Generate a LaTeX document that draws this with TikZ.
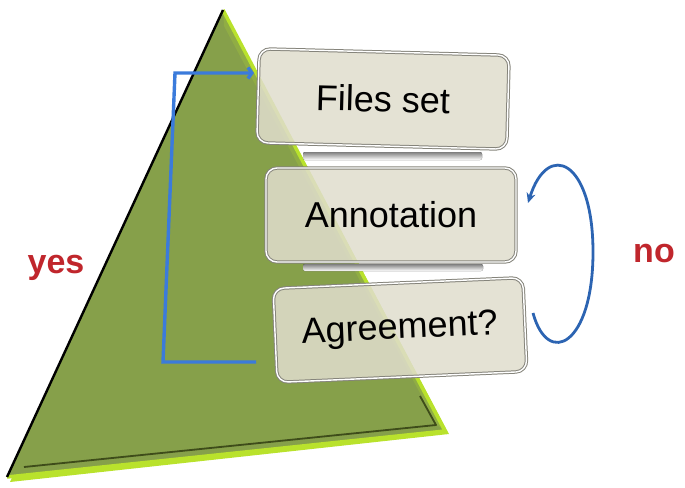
\documentclass[tikz,border=0pt]{standalone}
\usepackage{fontspec}
\setmainfont{Liberation Sans}
\usetikzlibrary{arrows.meta}
\definecolor{olivefill}{HTML}{86A04A}
\definecolor{limeedge}{HTML}{B9E22C}
\definecolor{darkbevel}{HTML}{3E4C1A}
\definecolor{boxfill}{HTML}{E0DDCD}
\definecolor{boxline}{HTML}{85847B}
\definecolor{shade}{HTML}{B4B6BC}
\definecolor{bracketblue}{HTML}{3B7BDB}
\definecolor{arcblue}{HTML}{2C64B2}
\definecolor{labelred}{HTML}{C0262C}
\tikzset{
  stepbox/.style={draw=boxline, line width=1pt, double=white, double distance=1.4pt,
    fill=boxfill, fill opacity=0.86, text opacity=1, rounded corners=11pt,
    minimum width=250pt, minimum height=94pt, inner sep=0pt,
    font=\fontsize{36}{40}\selectfont},
  answer/.style={text=labelred, font=\fontsize{34}{38}\selectfont\bfseries},
  flowline/.style={draw=bracketblue, line width=3.4pt},
  loopline/.style={draw=arcblue, line width=2.8pt}
}
\begin{document}
\begin{tikzpicture}[x=1pt,y=-1pt]
\useasboundingbox (0,0) rectangle (685,487);
% triangle
\coordinate (T) at (223,10);
\coordinate (L) at (7,477);
\coordinate (R) at (445,431);
\fill[limeedge] (225,12) -- (449,434) -- (10,482) -- cycle;
\fill[olivefill] (T) -- (R) -- (L) -- cycle;
\fill[olivefill!80!limeedge] (T) -- (R) -- (437,425) -- (224,26) -- cycle;
\draw[darkbevel, line width=1.8pt, line join=round] (24,467) -- (436,425) -- (420,396);
\draw[limeedge, line width=3.5pt, line join=round] (L) -- (R) -- (T);
\draw[black, line width=2.4pt] (T) -- (L);
% shadows under boxes
\fill[shade, rounded corners=2pt] (303,152) rectangle (482,160);
\fill[shade, rounded corners=2pt] (303,264) rectangle (483,271);
% boxes
\node[stepbox, rotate=-1.5] (fs) at (383,99) {Files set};
\node[stepbox] (an) at (391,215) {Annotation};
\node[stepbox, rotate=2.5] (ag) at (400,330) {Agreement?};
% bracket (yes)
\coordinate (b0) at (256,362);
\coordinate (b1) at (163,362);
\coordinate (b2) at (175,73);
\coordinate (b3) at (254,73);
\draw[flowline, -{Straight Barb[length=4pt,width=11pt]}] (b0) -- (b1) -- (b2) -- (b3);
% loop (no)
\coordinate (l0) at (533,313);
\coordinate (l1) at (528,203);
\draw[loopline, -{Stealth[length=10pt,width=9pt]}] (l0) .. controls (548,368) and (593,345) .. (593,252)
   .. controls (593,160) and (548,140) .. (l1);
% labels
\node[answer] (yes) at (56,268) {yes};
\node[answer] (no) at (654,254) {no};
\end{tikzpicture}
\end{document}
